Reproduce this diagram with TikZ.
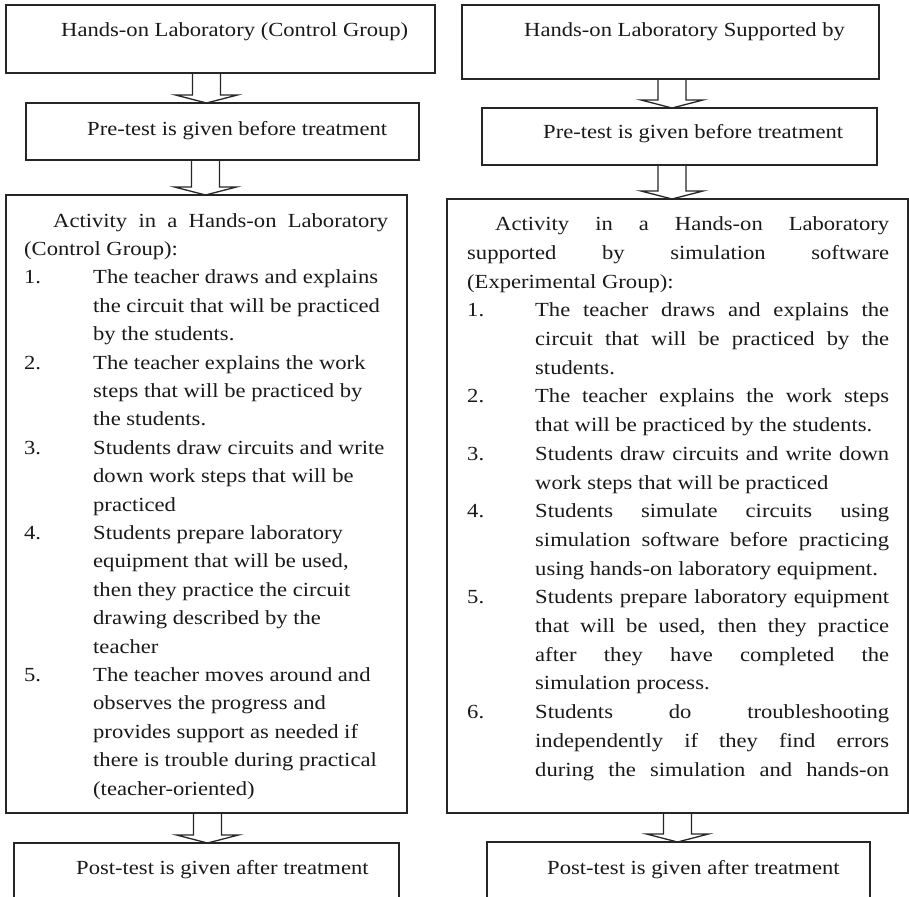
\documentclass[tikz,border=0pt]{standalone}
\usepackage{fontspec}
\setmainfont{Liberation Serif}[FakeStretch=1.13]
\usetikzlibrary{calc}

% line builders for the stacked text blocks
\newlength\itemind
\newcommand\lineJ[1]{\hbox to\hsize{#1}}        % justified line
\newcommand\lineR[1]{\hbox to\hsize{#1\hfil}}   % ragged line
\newcommand\lab[1]{\hbox to\itemind{#1\hfil}}   % list number
\newcommand\cont{\hskip\itemind\relax}          % continuation indent

% hollow block arrow from the bottom of #1 to the top of #2, centred at x=#3
\newcommand\flowarrow[3]{%
  \pgfmathsetmacro\arrL{#3-14}\pgfmathsetmacro\arrR{#3+14}%
  \draw[arrowline] (\arrL,0 |- #1.south) -- ($(\arrL,0 |- #2.north)+(0,-8)$)
    -- ++(-17,0) -- (#3,0 |- #2.north) -- ++(31,-8) -- ++(-17,0)
    -- (\arrR,0 |- #1.south);}

\begin{document}
\begin{tikzpicture}[x=1bp,y=-1bp,
  box/.style={draw=black!85, line width=1.5bp, rectangle, inner sep=0pt,
    outer sep=0pt, anchor=north west},
  boxtext/.style={inner sep=0pt, anchor=base west, text=black!90,
    font=\fontsize{20bp}{28.4bp}\selectfont},
  arrowline/.style={draw=black!85, line width=1.3bp, line join=miter}]

\useasboundingbox (0,0) rectangle (909,897);
\clip (0,0) rectangle (909,897);

% ---------- left column: control group ----------
\node[box, minimum width=429bp, minimum height=68bp] (L1) at (6,5) {};
\node[box, minimum width=393bp, minimum height=57bp] (L2) at (26,103) {};
\node[box, minimum width=401bp, minimum height=618bp] (L3) at (6,195) {};
\node[box, minimum width=385bp, minimum height=87bp] (L4) at (14,843) {};

\node[boxtext] (L1t) at (61,36) {Hands-on Laboratory (Control Group)};
\node[boxtext] (L2t) at (87,135) {Pre-test is given before treatment};
\node[boxtext] (L4t) at (76,874) {Post-test is given after treatment};

\node[boxtext] (L3t) at (24,227) {\vtop{\hsize=364bp \itemind=69bp
  \baselineskip=28.4bp \lineskiplimit=-50bp
  \lineJ{\hskip29bp\relax Activity in a Hands-on Laboratory}
  \lineR{(Control Group):}
  \lineR{\lab{1.}The teacher draws and explains}
  \lineR{\cont the circuit that will be practiced}
  \lineR{\cont by the students.}
  \lineR{\lab{2.}The teacher explains the work}
  \lineR{\cont steps that will be practiced by}
  \lineR{\cont the students.}
  \lineR{\lab{3.}Students draw circuits and write}
  \lineR{\cont down work steps that will be}
  \lineR{\cont practiced}
  \lineR{\lab{4.}Students prepare laboratory}
  \lineR{\cont equipment that will be used,}
  \lineR{\cont then they practice the circuit}
  \lineR{\cont drawing described by the}
  \lineR{\cont teacher}
  \lineR{\lab{5.}The teacher moves around and}
  \lineR{\cont observes the progress and}
  \lineR{\cont provides support as needed if}
  \lineR{\cont there is trouble during practical}
  \lineR{\cont (teacher-oriented)}
}};

\flowarrow{L1}{L2}{206.5}
\flowarrow{L2}{L3}{205.5}
\flowarrow{L3}{L4}{207.5}

% ---------- right column: experimental group ----------
\node[box, minimum width=417bp, minimum height=74bp] (R1) at (462,5) {};
\node[box, minimum width=395bp, minimum height=57bp] (R2) at (482,108) {};
\node[box, minimum width=461bp, minimum height=614bp] (R3) at (447,199) {};
\node[box, minimum width=383bp, minimum height=88bp] (R4) at (487,842) {};

\node[boxtext] (R1t) at (524,36) {Hands-on Laboratory Supported by};
\node[boxtext] (R2t) at (543,138) {Pre-test is given before treatment};
\node[boxtext] (R4t) at (547,874) {Post-test is given after treatment};

\node[boxtext] (R3t) at (467,230.7) {\vtop{\hsize=422bp \itemind=68bp
  \baselineskip=28.7bp \lineskiplimit=-50bp
  \lineJ{\hskip28bp\relax Activity in a Hands-on Laboratory}
  \lineJ{supported by simulation software}
  \lineR{(Experimental Group):}
  \lineJ{\lab{1.}The teacher draws and explains the}
  \lineJ{\cont circuit that will be practiced by the}
  \lineR{\cont students.}
  \lineJ{\lab{2.}The teacher explains the work steps}
  \lineR{\cont that will be practiced by the students.}
  \lineJ{\lab{3.}Students draw circuits and write down}
  \lineR{\cont work steps that will be practiced}
  \lineJ{\lab{4.}Students simulate circuits using}
  \lineJ{\cont simulation software before practicing}
  \lineR{\cont using hands-on laboratory equipment.}
  \lineJ{\lab{5.}Students prepare laboratory equipment}
  \lineJ{\cont that will be used, then they practice}
  \lineJ{\cont after they have completed the}
  \lineR{\cont simulation process.}
  \lineJ{\lab{6.}Students do troubleshooting}
  \lineJ{\cont independently if they find errors}
  \lineJ{\cont during the simulation and hands-on}
}};

\flowarrow{R1}{R2}{672}
\flowarrow{R2}{R3}{672}
\flowarrow{R3}{R4}{677.5}

\end{tikzpicture}
\end{document}
